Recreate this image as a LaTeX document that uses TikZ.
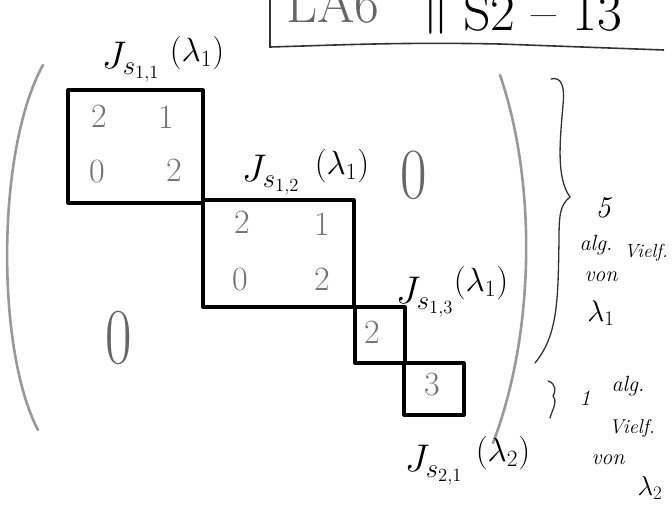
\documentclass[tikz,border=0pt]{standalone}
\usepackage{fontspec}
\begin{document}
\begin{tikzpicture}[x=1pt,y=-1pt,
  blk/.style={draw=black,line width=3.2pt,line join=round,minimum width=#1},
  entry/.style={text=black!55,inner sep=0pt,font=\fontsize{34}{34}\selectfont},
  paren/.style={draw=black!40,line width=2.6pt,line cap=round},
  jlab/.style={inner sep=0pt,font=\fontsize{24}{24}\selectfont,scale=1.55},
  llab/.style={inner sep=0pt,font=\fontsize{24}{24}\selectfont,scale=1.35},
  note/.style={inner sep=0pt,font=\fontsize{22}{22}\selectfont\itshape},
  bignull/.style={inner sep=0pt,text=black!60,font=\fontsize{72}{72}\selectfont},
  brc/.style={draw=black!80,line width=1.3pt,line cap=round},
  hdr/.style={inner sep=0pt,anchor=base west,font=\fontsize{54}{54}\selectfont}]
\useasboundingbox (0,0) rectangle (672,512);

% header
\node[hdr,text=black!60] (hdrA) at (286,22) {LA6};
\node[inner sep=0pt,anchor=base west,font=\fontsize{24}{24}\selectfont,scale=2.2] (hdrB) at (422,20) {$\|$};
\node[hdr] (hdrC) at (463,30) {S2 – 13};
\coordinate (hl) at (270,0);
\coordinate (hc) at (270,47);
\coordinate (hr) at (664,50);
\draw[line width=1.6pt,black!80] (hl) -- (hc) .. controls (340,45) and (400,42) .. (500,44) -- (hr);

% parentheses
\coordinate (lp1) at (43,65);
\coordinate (lp2) at (38,430);
\draw[paren] (lp1) .. controls (-4,150) and (-4,350) .. (lp2);
\coordinate (rp1) at (500,75);
\coordinate (rp2) at (493,443);
\draw[paren] (rp1) .. controls (536,180) and (536,330) .. (rp2);

% blocks
\node[blk=135pt,minimum height=113pt] (b1) at (135.5,146.5) {};
\node[blk=151pt,minimum height=107pt] (b2) at (278.5,253.5) {};
\node[blk=50pt,minimum height=56pt] (b3) at (380,335) {};
\node[blk=60pt,minimum height=52pt] (b4) at (434,389) {};

% entries
\node[entry] (e11) at (99,116) {2};
\node[entry] (e12) at (166,117) {1};
\node[entry] (e13) at (97,172) {0};
\node[entry] (e14) at (174,170) {2};
\node[entry] (e21) at (242,222) {2};
\node[entry] (e22) at (322,224) {1};
\node[entry] (e23) at (240,280) {0};
\node[entry] (e24) at (322,279) {2};
\node[entry] (e31) at (372,332) {2};
\node[entry] (e41) at (432,385) {3};

% zeros
\node[bignull,xscale=0.8] (z1) at (414,175) {0};
\node[bignull,xscale=0.8,yscale=1.1] (z2) at (119,338) {0};

% labels
\node[jlab] (j1) at (131,62) {$J_{s_{1,1}}$};
\node[llab] (l1) at (197,53) {$(\lambda_1)$};
\node[jlab] (j2) at (271,175) {$J_{s_{1,2}}$};
\node[llab] (l2) at (342,166) {$(\lambda_1)$};
\node[jlab] (j3) at (425,297) {$J_{s_{1,3}}$};
\node[llab] (l3) at (481,283) {$(\lambda_1)$};
\node[jlab] (j4) at (434,465) {$J_{s_{2,1}}$};
\node[llab] (l4) at (503,453) {$(\lambda_2)$};

% right brace, 5 alg. Vielf. von lambda_1
\coordinate (br1) at (551,79);
\coordinate (br2) at (570,197);
\coordinate (br3) at (535,363);
\draw[brc] (br1) .. controls (562,76) and (565,88) .. (563,105)
  .. controls (560,140) and (556,178) .. (br2)
  .. controls (560,205) and (559,215) .. (559,240)
  .. controls (558,300) and (558,335) .. (br3);
\node[note,font=\fontsize{30}{30}\selectfont\itshape] (n5) at (603,208) {5};
\node[note] (n6) at (596,245) {alg.};
\node[note,font=\fontsize{19}{19}\selectfont\itshape] (n7) at (646,253) {Vielf.};
\node[note] (n8) at (601,277) {von};
\node[note,font=\fontsize{24}{24}\selectfont,scale=1.2] (n9) at (601,313) {$\lambda_1$};

% small brace, 1 alg. Vielf. von lambda_2
\coordinate (sb1) at (548,381);
\coordinate (sb2) at (550,418);
\draw[brc] (sb1) .. controls (556,383) and (556,392) .. (553,396)
  .. controls (558,402) and (552,410) .. (sb2);
\node[note] (m1) at (585,398) {1};
\node[note] (m2) at (628,386) {alg.};
\node[note,font=\fontsize{20}{20}\selectfont\itshape] (m3) at (632,428) {Vielf.};
\node[note] (m4) at (608,460) {von};
\node[note,font=\fontsize{24}{24}\selectfont,scale=1.1] (m5) at (650,488) {$\lambda_2$};
\end{tikzpicture}
\end{document}
